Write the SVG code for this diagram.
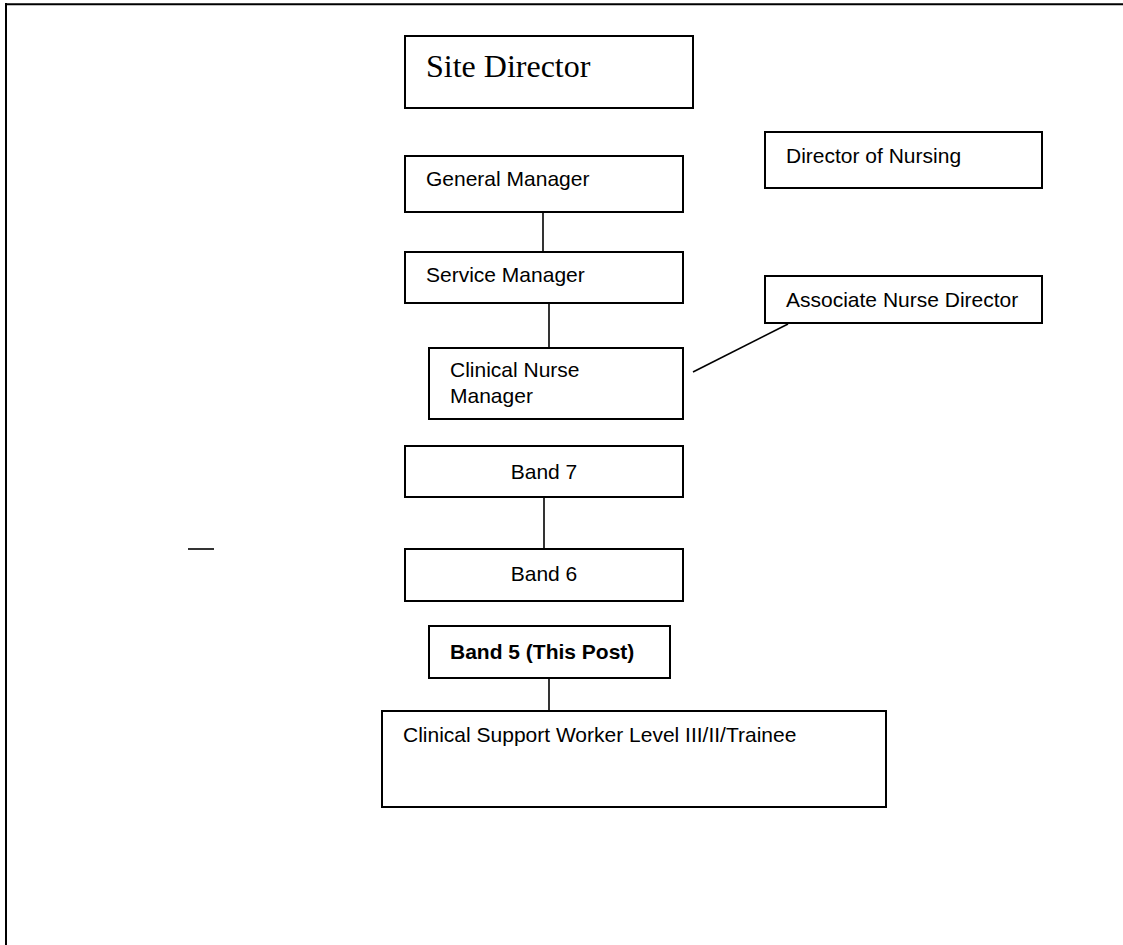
<svg xmlns="http://www.w3.org/2000/svg" width="1123" height="945" viewBox="0 0 1123 945">
<style>
.box{fill:#fff;stroke:#000;stroke-width:2}
.t{font-family:"Liberation Sans",Arial,sans-serif;font-size:21px;fill:#000}
.b{font-weight:bold}
.ts{font-family:"Liberation Serif","Times New Roman",serif;font-size:32px;fill:#000}
.ln{stroke:#000;stroke-width:1.6;fill:none}
.frame{stroke:#000;stroke-width:2;fill:none}
</style>
<rect width="1123" height="945" fill="#fff"/>
<g id="frame">
<line class="frame" x1="6" y1="4.2" x2="1123" y2="4.2"/>
<line class="frame" x1="6" y1="3" x2="6" y2="945"/>
</g>
<g id="connectors">
<line class="ln" x1="543" y1="212" x2="543" y2="252"/>
<line class="ln" x1="549" y1="299" x2="549" y2="348"/>
<line class="ln" x1="693" y1="372" x2="788" y2="324"/>
<line class="ln" x1="544" y1="497" x2="544" y2="549"/>
<line class="ln" x1="549" y1="678" x2="549" y2="711"/>
<line class="ln" x1="188" y1="549" x2="214" y2="549"/>
</g>
<g id="site-director">
<rect class="box" x="405" y="36" width="288" height="72"/>
<text class="ts" x="426" y="77">Site Director</text>
</g>
<g id="general-manager">
<rect class="box" x="405" y="156" width="278" height="56"/>
<text class="t" x="426" y="186">General Manager</text>
</g>
<g id="director-of-nursing">
<rect class="box" x="765" y="132" width="277" height="56"/>
<text class="t" x="786" y="163">Director of Nursing</text>
</g>
<g id="service-manager">
<rect class="box" x="405" y="252" width="278" height="51"/>
<text class="t" x="426" y="282">Service Manager</text>
</g>
<g id="associate-nurse-director">
<rect class="box" x="765" y="276" width="277" height="47"/>
<text class="t" x="786" y="307">Associate Nurse Director</text>
</g>
<g id="clinical-nurse-manager">
<rect class="box" x="429" y="348" width="254" height="71"/>
<text class="t" x="450" y="377">Clinical Nurse</text>
<text class="t" x="450" y="403">Manager</text>
</g>
<g id="band-7">
<rect class="box" x="405" y="446" width="278" height="51"/>
<text class="t" x="544" y="479" text-anchor="middle">Band 7</text>
</g>
<g id="band-6">
<rect class="box" x="405" y="549" width="278" height="52"/>
<text class="t" x="544" y="581" text-anchor="middle">Band 6</text>
</g>
<g id="band-5">
<rect class="box" x="429" y="626" width="241" height="52"/>
<text class="t b" x="450" y="659">Band 5 (This Post)</text>
</g>
<g id="clinical-support-worker">
<rect class="box" x="382" y="711" width="504" height="96"/>
<text class="t" x="403" y="742">Clinical Support Worker Level III/II/Trainee</text>
</g>
</svg>
